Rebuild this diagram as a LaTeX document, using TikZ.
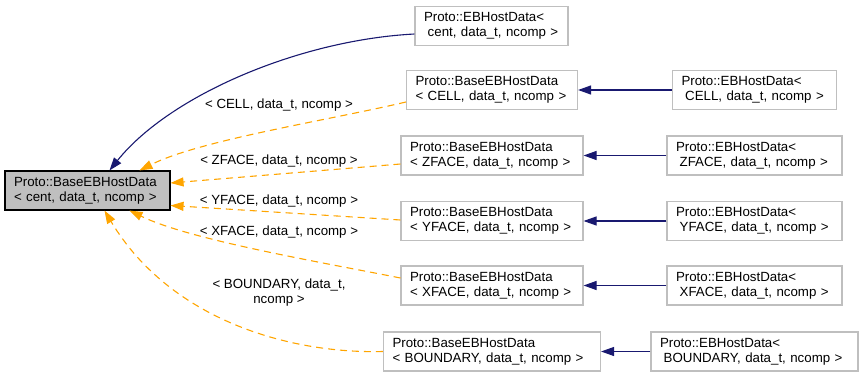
\documentclass[tikz,border=0pt]{standalone}
\usepackage{fontspec}
\setmainfont{Liberation Sans}
\usetikzlibrary{arrows.meta}

\definecolor{grey75}{HTML}{BFBFBF}
\definecolor{midnight}{HTML}{191970}
\definecolor{tmplorange}{HTML}{FFA500}

\begin{document}
\begin{tikzpicture}[x=1pt, y=-1pt,
    every node/.style = {font=\fontsize{13.3}{15}\selectfont},
    classbox/.style = {draw=grey75, fill=white, align=left, inner xsep=9pt, inner ysep=2pt, minimum height=39pt, line width=1.1pt},
    rootbox/.style = {classbox, draw=black, fill=grey75},
    inherit/.style = {midnight, line width=1.1pt, -{Triangle[length=13pt, width=9pt]}},
    instance/.style = {tmplorange, line width=1.1pt, dash pattern=on 7pt off 5pt, -{Triangle[length=13pt, width=9pt]}},
    tag/.style = {align=center}]
    \useasboundingbox (0,0) rectangle (864,377);

    % the base template and its direct subclass
    \node (root) [rootbox, text width=147pt] at (87.5, 190.5) {Proto::BaseEBHostData\\< cent, data\_t, ncomp >};
    \node (ebcent) [classbox, text width=135pt] at (491.5, 26) {Proto::EBHostData<\\\hspace*{3.7pt}cent, data\_t, ncomp >};

    % one row per centering
    \foreach \kind/\y/\bw/\ew in {CELL/90/171/164, ZFACE/155.5/182/175, YFACE/221/182/175, XFACE/285.5/182/175, BOUNDARY/351.5/217/207}
    {
      \pgfmathsetmacro{\btw}{\bw - 18}
      \pgfmathsetmacro{\etw}{\ew - 18}
      \node (base\kind) [classbox, text width=\btw pt] at (492, \y) {Proto::BaseEBHostData\\< \kind, data\_t, ncomp >};
      \node (eb\kind) [classbox, text width=\etw pt] at (754.5, \y) {Proto::EBHostData<\\\hspace*{3.7pt}\kind, data\_t, ncomp >};
      \draw [inherit] (eb\kind) -- (base\kind);
    }

    \draw [inherit] ([yshift=-8pt]ebcent.west) .. controls (300,40) and (170,95) .. ([xshift=22pt]root.north);

    % template instances
    \draw [instance] ([yshift=-12pt]baseCELL.west) .. controls (330,120) and (200,140) .. ([xshift=52pt]root.north);
    \draw [instance] ([yshift=-8.5pt]baseZFACE.west) -- ([yshift=7.5pt]root.east);
    \draw [instance] ([yshift=1pt]baseYFACE.west) -- ([yshift=-15pt]root.east);
    \draw [instance] ([yshift=7.5pt]baseXFACE.west) .. controls (320,262) and (190,240) .. ([xshift=42pt]root.south);
    \draw [instance] (baseBOUNDARY.west) .. controls (290,354) and (170,320) .. ([xshift=17pt]root.south);

    \foreach \kind/\y in {CELL/105, ZFACE/161, YFACE/201, XFACE/232}
    {
      \node (lbl\kind) at (279, \y) {< \kind, data\_t, ncomp >};
    }
    \node (lblBOUNDARY) [tag] at (279, 292.5) {< BOUNDARY, data\_t,\\ncomp >};
  \end{tikzpicture}
\end{document}
